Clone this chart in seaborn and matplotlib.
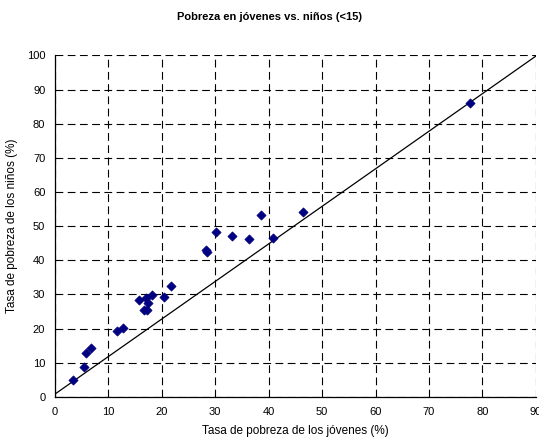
import matplotlib
matplotlib.use("Agg")
import matplotlib.pyplot as plt
import seaborn as sns
import pandas as pd

jovenes = [3.3, 5.5, 5.9, 6.7, 11.6, 12.8, 15.7, 16.7, 17.1, 17.3, 17.5, 18.1,
           20.4, 21.8, 28.3, 28.4, 30.2, 33.1, 36.3, 38.5, 40.9, 46.4, 77.7]
ninos = [4.8, 8.7, 12.7, 14.4, 19.2, 20.2, 28.4, 25.4, 29.0, 25.3, 27.4, 29.8,
         29.2, 32.4, 43.1, 42.3, 48.4, 47.1, 46.2, 53.3, 46.6, 54.1, 86.0]
linea_x = [0, 90]
linea_y = [0.8, 99.8]
x_ticks = [0, 10, 20, 30, 40, 50, 60, 70, 80, 90]
y_ticks = [0, 10, 20, 30, 40, 50, 60, 70, 80, 90, 100]

sns.set_style("white")
plt.rcParams['font.family'] = ['Liberation Sans', 'DejaVu Sans']
plt.rcParams['text.color'] = 'black'
plt.rcParams['axes.labelcolor'] = 'black'
plt.rcParams['xtick.color'] = 'black'
plt.rcParams['ytick.color'] = 'black'

fig = plt.figure(figsize=(5.39, 4.37), dpi=100)
ax = fig.add_axes([0.102, 0.092, 0.892, 0.781])

df = pd.DataFrame({"x": jovenes, "y": ninos})
ln = pd.DataFrame({"x": linea_x, "y": linea_y})
sns.lineplot(data=ln, x="x", y="y", ax=ax, color="black", linewidth=0.9, zorder=2)
sns.scatterplot(data=df, x="x", y="y", ax=ax, marker="D", s=22, color="#000080",
                edgecolor="#000080", linewidth=0.5, zorder=3)

ax.set_xlim(0, 90)
ax.set_ylim(0, 100)
ax.set_xticks(x_ticks)
ax.set_yticks(y_ticks)
ax.tick_params(axis='both', labelsize=8, length=4, width=0.8, direction='out',
               color='black', labelcolor='black', pad=3)
ax.grid(True, color='black', linestyle=(0, (7, 4)), linewidth=0.8)
ax.set_axisbelow(True)
for s in ['top', 'right']:
    ax.spines[s].set_visible(False)
for s in ['left', 'bottom']:
    ax.spines[s].set_color('black')
    ax.spines[s].set_linewidth(0.9)

ax.set_xlabel("Tasa de pobreza de los jóvenes (%)", fontsize=8.5, labelpad=6, color='black')
ax.set_ylabel("Tasa de pobreza de los niños (%)", fontsize=8.5, labelpad=6, color='black')
fig.text(0.5, 0.96, "Pobreza en jóvenes vs. niños (<15)", ha='center', va='center',
         fontsize=8, fontweight='bold', color='black')

fig.savefig("out.png", dpi=100)
